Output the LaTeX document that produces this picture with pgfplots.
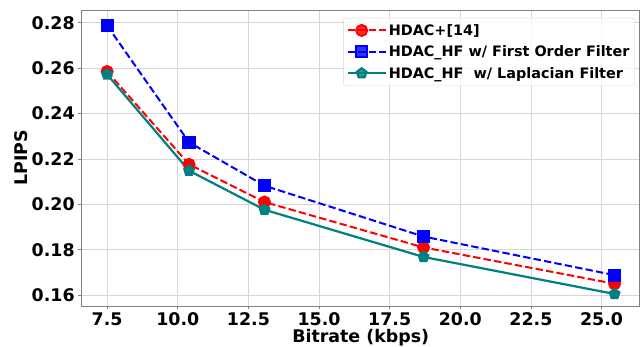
\documentclass[border=0pt]{standalone}
\usepackage{pgfplots}
\pgfplotsset{compat=1.18}
\usepackage{fontspec}
\setmainfont{DejaVu Sans}
\definecolor{mplteal}{HTML}{008080}
\definecolor{gridgray}{HTML}{D6D6D6}
\definecolor{spinegray}{HTML}{808080}
\begin{document}
\begin{tikzpicture}
\path[use as bounding box] (-81.7pt,-41pt) rectangle (562.3pt,306pt);
\begin{axis}[
  scale only axis, width=558pt, height=296pt,
  xmin=6.6, xmax=26.35, ymin=0.1552, ymax=0.2856,
  xtick={7.5,10,12.5,15,17.5,20,22.5,25},
  ytick={0.16,0.18,0.20,0.22,0.24,0.26,0.28},
  xticklabel style={/pgf/number format/.cd,fixed,fixed zerofill,precision=1,assume math mode=true},
  yticklabel style={/pgf/number format/.cd,fixed,fixed zerofill,precision=2,assume math mode=true},
  scaled y ticks=false, scaled x ticks=false,
  tick label style={font=\fontsize{17.4}{20}\selectfont\bfseries},
  grid=major, grid style={gridgray, line width=0.8pt},
  axis line style={spinegray, line width=0.8pt},
  tick style={spinegray, line width=0.8pt},
  tick align=outside, tick pos=left, major tick length=3.5pt,
  xlabel={Bitrate (kbps)}, ylabel={LPIPS},
  label style={font=\fontsize{17.4}{20}\selectfont\bfseries},
  xlabel style={at={(axis description cs:0.5,-0.125)}, anchor=base},
  ylabel style={at={(axis description cs:-0.0975,0.5)}, anchor=base},
  legend cell align=left,
  legend style={at={(axis description cs:1,1)}, anchor=north east, xshift=-5pt, yshift=-8pt,
    draw=gridgray, rounded corners=2pt, fill=white, fill opacity=0.8, text opacity=1,
    font=\fontsize{14.4}{16}\selectfont\bfseries, inner xsep=3pt, inner ysep=4pt, row sep=5pt},
  legend image code/.code={\path (0pt,0pt) -- (38pt,0pt);\draw[mark repeat=2,mark phase=2] plot coordinates {(0pt,0pt) (14pt,0pt) (28pt,0pt)};},
]
\addplot[red, line width=2pt, dash pattern=on 7.4pt off 3.2pt, mark=*, mark size=5.5pt, mark options={solid, fill=red, draw=red}]
  coordinates {(7.5,0.2585) (10.4,0.2176) (13.07,0.2010) (18.7,0.1810) (25.46,0.1650)};
\addlegendentry{HDAC+[14]}
\addplot[blue, line width=2pt, dash pattern=on 7.4pt off 3.2pt, mark=square*, mark size=5.6pt, mark options={solid, fill=blue, draw=blue}]
  coordinates {(7.5,0.2787) (10.4,0.2273) (13.07,0.2082) (18.7,0.1858) (25.46,0.1688)};
\addlegendentry{HDAC\_HF w/ First Order Filter}
\addplot[mplteal, line width=2.2pt, mark=pentagon*, mark size=5pt, mark options={solid, fill=mplteal, draw=mplteal}]
  coordinates {(7.5,0.2572) (10.4,0.2148) (13.07,0.1976) (18.7,0.1768) (25.46,0.1605)};
\addlegendentry{HDAC\_HF\ \ w/ Laplacian Filter}
\end{axis}
\end{tikzpicture}
\end{document}
